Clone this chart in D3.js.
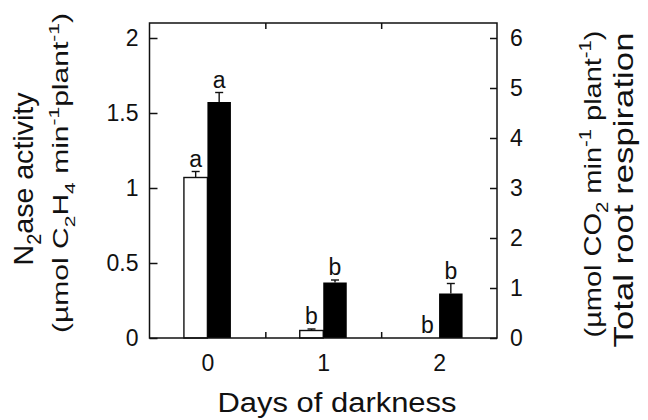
<!DOCTYPE html>
<html>
<head>
<meta charset="utf-8">
<script src="https://cdn.jsdelivr.net/npm/d3@7"></script>
<style>
  body { margin: 0; background: #fff; }
  svg text { font-family: "Liberation Sans", Arial, Helvetica, sans-serif; fill: #111; }
</style>
</head>
<body>
<div id="chart"></div>
<script>
// data
const days = [0, 1, 2];
const n2ase = [1.07, 0.05, 0];          // left axis, white bars
const n2aseErr = [0.04, 0.01, 0];
const n2aseLetters = ["a", "b", "b"];
const respiration = [4.72, 1.11, 0.89]; // right axis, black bars
const respErr = [0.19, 0.05, 0.2];
const respLetters = ["a", "b", "b"];
const leftTicks = [0, 0.5, 1, 1.5, 2];
const rightTicks = [0, 1, 2, 3, 4, 5, 6];

const width = 648, height = 420;
const plot = { left: 149.5, right: 497, top: 23, bottom: 338 };
const barW = 23.5;

const svg = d3.select("#chart").append("svg")
    .attr("width", width)
    .attr("height", height);

const x = d3.scaleLinear().domain([-0.5, 2.5]).range([plot.left, plot.right]);
const yL = d3.scaleLinear().domain([0, 2.1]).range([plot.bottom, plot.top]);
const yR = d3.scaleLinear().domain([0, 6.3]).range([plot.bottom, plot.top]);

const ink = "#111";

// bars
const white = days.map((d, i) => ({ d, v: n2ase[i], e: n2aseErr[i], l: n2aseLetters[i] }));
const black = days.map((d, i) => ({ d, v: respiration[i], e: respErr[i], l: respLetters[i] }));

svg.selectAll("rect.white")
    .data(white)
    .enter().append("rect")
    .attr("class", "white")
    .attr("x", d => x(d.d) - barW)
    .attr("y", d => yL(d.v))
    .attr("width", barW)
    .attr("height", d => yL(0) - yL(d.v))
    .attr("fill", "#fff")
    .attr("stroke", d => d.v > 0 ? ink : "none")
    .attr("stroke-width", 1.4);

svg.selectAll("rect.black")
    .data(black)
    .enter().append("rect")
    .attr("class", "black")
    .attr("x", d => x(d.d))
    .attr("y", d => yR(d.v))
    .attr("width", barW)
    .attr("height", d => yR(0) - yR(d.v))
    .attr("fill", "#000");

// error bars (upper half only)
function errBars(data, y, dx) {
    const g = svg.append("g").attr("stroke", ink).attr("stroke-width", 1.4);
    data.filter(d => d.e > 0).forEach(d => {
        const cx = x(d.d) + dx;
        g.append("line").attr("x1", cx).attr("x2", cx).attr("y1", y(d.v)).attr("y2", y(d.v + d.e));
        g.append("line").attr("x1", cx - 4).attr("x2", cx + 4).attr("y1", y(d.v + d.e)).attr("y2", y(d.v + d.e));
    });
}
errBars(white, yL, -barW / 2);
errBars(black, yR, barW / 2);

// significance letters
function letters(data, y, dx) {
    svg.append("g").selectAll("text")
        .data(data)
        .enter().append("text")
        .attr("x", d => x(d.d) + dx)
        .attr("y", d => y(d.v + d.e) - 5)
        .attr("text-anchor", "middle")
        .attr("font-size", 23)
        .text(d => d.l);
}
letters(white, yL, -barW / 2);
letters(black, yR, barW / 2);

// frame
svg.append("rect")
    .attr("x", plot.left).attr("y", plot.top)
    .attr("width", plot.right - plot.left)
    .attr("height", plot.bottom - plot.top)
    .attr("fill", "none")
    .attr("stroke", ink)
    .attr("stroke-width", 1.5);

function styleAxis(g, size) {
    g.select(".domain").remove();
    g.selectAll("line").attr("stroke", ink).attr("stroke-width", 1.5);
    g.selectAll("text").attr("font-size", size).attr("fill", ink)
        .style("font-family", '"Liberation Sans", Arial, sans-serif');
}

svg.append("g")
    .attr("transform", `translate(${plot.left},0)`)
    .call(d3.axisLeft(yL).tickValues(leftTicks).tickSize(-8).tickPadding(11).tickFormat(d3.format("~g")))
    .call(g => styleAxis(g, 23));

svg.append("g")
    .attr("transform", `translate(${plot.right},0)`)
    .call(d3.axisRight(yR).tickValues(rightTicks).tickSize(-7).tickPadding(13).tickFormat(d3.format("d")))
    .call(g => styleAxis(g, 23));

// tick marks between groups, bottom and top
svg.append("g")
    .attr("transform", `translate(0,${plot.bottom})`)
    .call(d3.axisBottom(x).tickValues([0.5, 1.5]).tickSize(-6).tickFormat(""))
    .call(g => styleAxis(g, 22));
svg.append("g")
    .attr("transform", `translate(0,${plot.top})`)
    .call(d3.axisTop(x).tickValues([0.5, 1.5]).tickSize(-6).tickFormat(""))
    .call(g => styleAxis(g, 22));

// day labels
svg.append("g")
    .attr("transform", `translate(0,${plot.bottom})`)
    .call(d3.axisBottom(x).tickValues(days).tickSize(0).tickPadding(17).tickFormat(d3.format("d")))
    .call(g => styleAxis(g, 23));

// titles with sub/superscripts, stretched to the span measured on the figure
function richText(parent, parts, size, span) {
    const t = parent.append("text").attr("font-size", size).attr("text-anchor", "middle");
    let shift = 0;
    parts.forEach(p => {
        const s = typeof p === "string" ? { t: p, k: "n" } : p;
        let target = 0, fs = size;
        if (s.k === "sub") { target = 0.3 * size; fs = size * 0.7; }
        if (s.k === "sup") { target = -0.4 * size; fs = size * 0.7; }
        t.append("tspan").attr("dy", target - shift).attr("font-size", fs).text(s.t);
        shift = target;
    });
    if (span) t.attr("textLength", span).attr("lengthAdjust", "spacingAndGlyphs");
    return t;
}

const left = svg.append("g");
richText(left.append("g").attr("transform", "translate(33,179) rotate(-90)"),
    ["N", { t: "2", k: "sub" }, "ase activity"], 28, 173);
richText(left.append("g").attr("transform", "translate(68,173) rotate(-90)"),
    ["(\u00b5mol C", { t: "2", k: "sub" }, "H", { t: "4", k: "sub" }, " min", { t: "-1", k: "sup" }, "plant", { t: "-1", k: "sup" }, ")"], 22, 320);

const right = svg.append("g");
richText(right.append("g").attr("transform", "translate(601,184) rotate(-90)"),
    ["(\u00b5mol CO", { t: "2", k: "sub" }, " min", { t: "-1", k: "sup" }, " plant", { t: "-1", k: "sup" }, ")"], 24, 307);
richText(right.append("g").attr("transform", "translate(633,190) rotate(-90)"),
    ["Total root respiration"], 28, 315);

richText(svg.append("g").attr("transform", "translate(337,412)"),
    ["Days of darkness"], 27, 239);
</script>
</body>
</html>
